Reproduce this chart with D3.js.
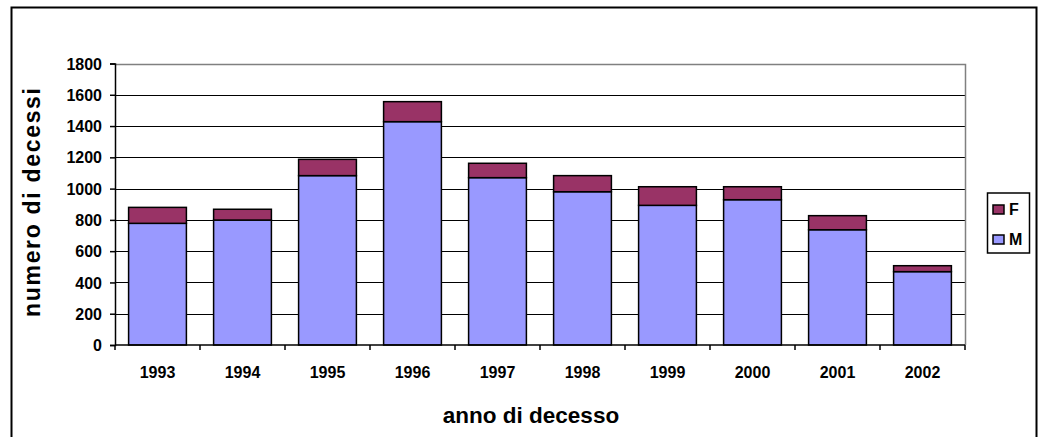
<!DOCTYPE html>
<html><head><meta charset="utf-8">
<script src="https://cdn.jsdelivr.net/npm/d3@7"></script>
<style>body{margin:0;background:#fff}svg{display:block}text{font-family:"Liberation Sans",Arial,sans-serif;font-weight:bold;fill:#000}</style>
</head><body>
<script>
const years = ["1993","1994","1995","1996","1997","1998","1999","2000","2001","2002"];
const maschi = [778, 799, 1083, 1428, 1070, 980, 893, 929, 737, 469];
const femmine = [102, 69, 104, 128, 92, 103, 119, 83, 90, 38];
const yTicks = [0,200,400,600,800,1000,1200,1400,1600,1800];
const seriesNames = ["M","F"];
const colors = {M:"#9999FF", F:"#993366"};

const W=1038,H=437;
const svg=d3.select("body").append("svg").attr("width",W).attr("height",H);
svg.append("rect").attr("x",11.5).attr("y",7.5).attr("width",1025).attr("height",440).attr("fill","#fff").attr("stroke","#000").attr("stroke-width",2);

const L=115,R=965,T=63.5,B=345;
const x=d3.scaleBand().domain(years).range([L,R]).paddingInner(0.32).paddingOuter(0.16);
const y=d3.scaleLinear().domain([0,1800]).range([B,T]);

// gridlines
svg.append("g").selectAll("line").data(yTicks.filter(d=>d>0&&d<1800)).join("line")
 .attr("x1",L).attr("x2",R).attr("y1",d=>Math.round(y(d))+0.5).attr("y2",d=>Math.round(y(d))+0.5)
 .attr("stroke","#000").attr("stroke-width",1);
// plot border top/right grey
svg.append("path").attr("d",`M${L},${Math.round(T)+0.5}H${R+0.5}V${B}`).attr("fill","none").attr("stroke","#808080").attr("stroke-width",1.5);

const data=years.map((yr,i)=>({year:yr,M:maschi[i],F:femmine[i]}));
const stack=d3.stack().keys(seriesNames)(data);
svg.append("g").selectAll("g").data(stack).join("g").attr("fill",d=>colors[d.key])
 .selectAll("rect").data(d=>d).join("rect")
 .attr("x",d=>x(d.data.year)).attr("width",x.bandwidth())
 .attr("y",d=>y(d[1])).attr("height",d=>y(d[0])-y(d[1]))
 .attr("stroke","#000").attr("stroke-width",1.5);

// y axis
const ya=svg.append("g").attr("transform",`translate(${L},0)`)
 .call(d3.axisLeft(y).tickValues(yTicks).tickSize(5).tickPadding(8).tickFormat(d3.format("d")));
ya.select(".domain").attr("stroke","#000").attr("stroke-width",1.5);
ya.selectAll(".tick line").attr("stroke","#000").attr("stroke-width",1.5);
ya.selectAll("text").style("font-size","16px").attr("dy","0.35em");

// x axis
const xa=svg.append("g").attr("transform",`translate(0,${B})`)
 .call(d3.axisBottom(x).tickSize(0));
xa.select(".domain").remove();
xa.append("line").attr("x1",L).attr("x2",R).attr("stroke","#000").attr("stroke-width",1.5);
const bounds=d3.range(years.length+1).map(i=>L+i*(R-L)/years.length);
xa.selectAll(".bt").data(bounds).join("line").attr("class","bt").attr("x1",d=>d).attr("x2",d=>d).attr("y1",0).attr("y2",5).attr("stroke","#000").attr("stroke-width",1.5);
xa.selectAll(".tick text").style("font-size","16px").attr("y",33).attr("dy","0");

// titles
svg.append("text").attr("x",531).attr("y",423).attr("text-anchor","middle").style("font-size","22.5px").text("anno di decesso");
svg.append("text").attr("transform",`translate(40,202.5) rotate(-90)`).attr("text-anchor","middle").style("font-size","23px")
 .attr("textLength",229).attr("lengthAdjust","spacing").text("numero di decessi");

// legend
const lg=svg.append("g");
lg.append("rect").attr("x",987.5).attr("y",193).attr("width",42).attr("height",60).attr("fill","#fff").attr("stroke","#000").attr("stroke-width",1.5);
const leg=["F","M"];
leg.forEach((k,i)=>{
  const yy=209+i*30;
  lg.append("rect").attr("x",993).attr("y",yy-4).attr("width",11).attr("height",9).attr("fill",colors[k]).attr("stroke","#000").attr("stroke-width",1.5);
  lg.append("text").attr("x",1009).attr("y",yy+6).style("font-size","16px").text(k);
});
</script>
</body></html>
